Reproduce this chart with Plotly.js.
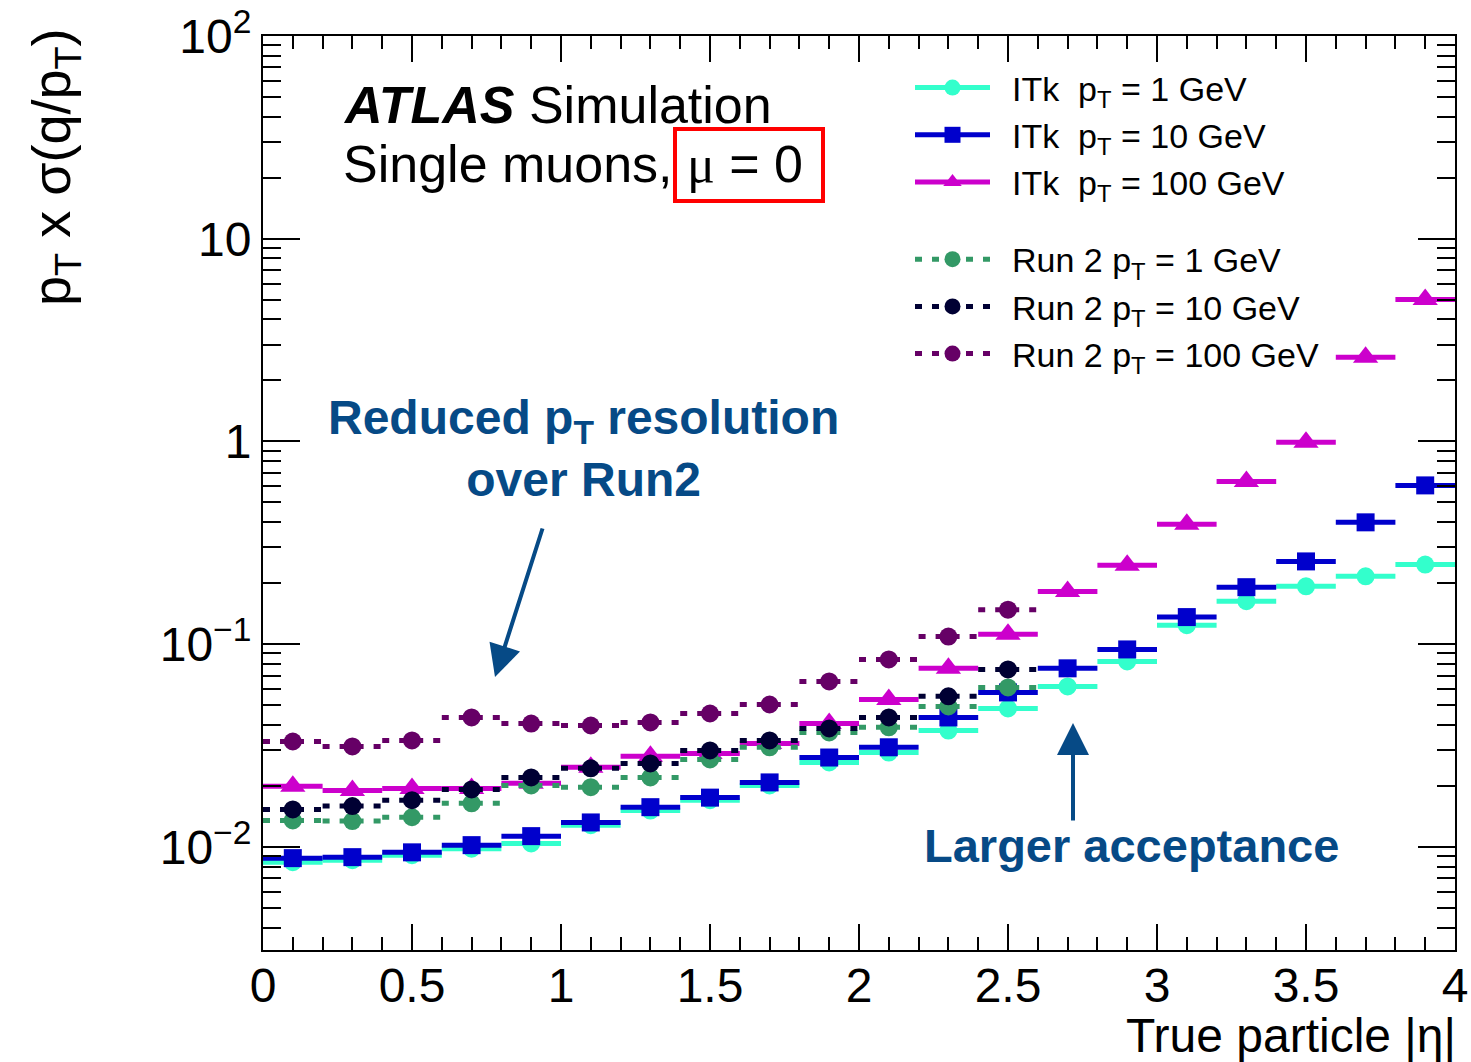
<!DOCTYPE html>
<html><head><meta charset="utf-8">
<script src="https://cdn.plot.ly/plotly-3.0.1.min.js"></script>
<style>html,body{margin:0;padding:0;background:#fff}</style>
</head><body><div id="chart" style="width:1471px;height:1062px"></div>
<script>
// ---- data ----
const etaBinCenters = [0.1,0.3,0.5,0.7,0.9,1.1,1.3,1.5,1.7,1.9,2.1,2.3,2.5,2.7,2.9,3.1,3.3,3.5,3.7,3.9];
const etaBinHalfWidth = 0.1;

const itk1GeV   = [0.0084,0.0086,0.0091,0.0098,0.0104,0.0128,0.0151,0.0170,0.0201,0.0261,0.0292,0.0375,0.0482,0.0619,0.0822,0.124,0.163,0.193,0.216,0.247];
const itk10GeV  = [0.0088,0.0089,0.0094,0.0102,0.0113,0.0132,0.0157,0.0175,0.0208,0.0276,0.0310,0.0435,0.0578,0.0760,0.0942,0.136,0.191,0.256,0.399,0.607];
const itk100GeV = [0.0199,0.0190,0.0194,0.0194,0.0206,0.0247,0.0280,0.0289,0.0324,0.0406,0.0534,0.0760,0.112,0.182,0.245,0.390,0.635,0.99,2.60,5.02];
const run2_1GeV   = [0.0135,0.0134,0.0140,0.0164,0.0201,0.0197,0.0220,0.0270,0.0310,0.0367,0.0389,0.0493,0.0612];
const run2_10GeV  = [0.0153,0.0159,0.0170,0.0192,0.0220,0.0244,0.0258,0.0299,0.0335,0.0384,0.0435,0.0553,0.0751];
const run2_100GeV = [0.0331,0.0313,0.0335,0.0435,0.0406,0.0397,0.0411,0.0455,0.0504,0.0655,0.0841,0.109,0.148];

const seriesNames = [
  '\u2002ITk  p<sub>T</sub> = 1 GeV', '\u2002ITk  p<sub>T</sub> = 10 GeV', '\u2002ITk  p<sub>T</sub> = 100 GeV',
  '\u2002Run 2 p<sub>T</sub> = 1 GeV', '\u2002Run 2 p<sub>T</sub> = 10 GeV', '\u2002Run 2 p<sub>T</sub> = 100 GeV'
];
const xTickVals = [0,0.5,1,1.5,2,2.5,3,3.5,4];
const xTickText = ['0','0.5','1','1.5','2','2.5','3','3.5','4'];
const yTickVals = [0.01,0.1,1,10,100];
const yTickText = ['10<sup>−2</sup>','10<sup>−1</sup>','1','10','10<sup>2</sup>'];

// ---- styles ----
const seriesValues = [itk1GeV, itk10GeV, itk100GeV, run2_1GeV, run2_10GeV, run2_100GeV];
const styles = [
  {color:'#33ffcc', symbol:'circle',      size:18, dash:'solid', group:'itk'},
  {color:'#0000cc', symbol:'square',      size:18, dash:'solid', group:'itk'},
  {color:'#cc00cc', symbol:'triangle-up', size:22, dash:'solid', group:'itk'},
  {color:'#339966', symbol:'circle',      size:18, dash:'7px,10px', group:'run2'},
  {color:'#000033', symbol:'circle',      size:18, dash:'7px,10px', group:'run2'},
  {color:'#660066', symbol:'circle',      size:18, dash:'7px,10px', group:'run2'}
];

const traces = [];
seriesValues.forEach((vals, k) => {
  const st = styles[k];
  const sx = [], sy = [];
  vals.forEach((v, i) => {
    const c = etaBinCenters[i];
    sx.push(c - etaBinHalfWidth, c + etaBinHalfWidth, null);
    sy.push(v, v, null);
  });
  traces.push({x: sx, y: sy, mode: 'lines', showlegend: false, hoverinfo: 'skip',
    line: {color: st.color, width: 5, dash: st.dash}});
  traces.push({x: etaBinCenters.slice(0, vals.length), y: vals, mode: 'markers', showlegend: false,
    marker: {color: st.color, symbol: st.symbol, size: st.size, line: {width: 0}}});
});
seriesValues.forEach((vals, k) => {
  const st = styles[k];
  traces.push({x: [null], y: [null], mode: 'lines+markers', name: seriesNames[k], legendgroup: st.group,
    line: {color: st.color, width: 5, dash: st.dash},
    marker: {color: st.color, symbol: st.symbol, size: st.size, line: {width: 0}}});
});

const FONT = 'Liberation Sans, Helvetica, Arial, sans-serif';
const BLUE = '#064a86';
const px = p => (p - 263) / 1192;
const py = p => (950 - p) / 914;

const layout = {
  width: 1471, height: 1062,
  margin: {l: 263, r: 16, t: 36, b: 112, pad: 0},
  paper_bgcolor: '#fff', plot_bgcolor: '#fff',
  font: {family: FONT, color: '#000'},
  showlegend: true,
  legend: {x: px(910), y: py(59), xanchor: 'left', yanchor: 'top', bgcolor: 'rgba(0,0,0,0)',
    font: {size: 34, family: FONT}, itemwidth: 75, tracegroupgap: 30, traceorder: 'grouped'},
  xaxis: {range: [0, 4], showgrid: false, zeroline: false, showline: true, linewidth: 2, linecolor: '#000',
    mirror: 'ticks', ticks: 'inside', ticklen: 26, tickwidth: 2, tickcolor: '#000',
    tickmode: 'array', tickvals: xTickVals, ticktext: xTickText, ticklabelstandoff: -8,
    tickfont: {size: 48, family: FONT},
    minor: {dtick: 0.1, tick0: 0, ticks: 'inside', ticklen: 13, tickwidth: 2, tickcolor: '#000', showgrid: false}},
  yaxis: {type: 'log', range: [Math.log10(0.0031), 2], showgrid: false, zeroline: false, showline: true,
    linewidth: 2, linecolor: '#000', mirror: 'ticks', ticks: 'inside', ticklen: 37, tickwidth: 2, tickcolor: '#000',
    tickmode: 'array', tickvals: yTickVals, ticktext: yTickText, tickfont: {size: 48, family: FONT},
    minor: {dtick: 'D1', ticks: 'inside', ticklen: 18, tickwidth: 2, tickcolor: '#000', showgrid: false}},
  shapes: [
    {type: 'rect', xref: 'paper', yref: 'paper', x0: px(675), x1: px(823), y0: py(201), y1: py(129),
      line: {color: '#ff0000', width: 4}}
  ],
  annotations: [
    {xref: 'paper', yref: 'paper', x: px(341), y: py(105), xanchor: 'left', yanchor: 'middle', showarrow: false,
      text: '<b><i>ATLAS</i></b> Simulation', font: {size: 52, family: FONT}},
    {xref: 'paper', yref: 'paper', x: px(341), y: py(164), xanchor: 'left', yanchor: 'middle', showarrow: false,
      text: 'Single muons, <span style="font-family:Liberation Serif, Times New Roman, serif">μ</span> = 0', font: {size: 52, family: FONT}},
    {xref: 'paper', yref: 'paper', x: px(583), y: py(449), xanchor: 'center', yanchor: 'middle', showarrow: false,
      text: '<b>Reduced p<sub>T</sub> resolution<br>over Run2</b>', font: {size: 48, family: FONT, color: BLUE}},
    {xref: 'paper', yref: 'paper', x: px(1131), y: py(845), xanchor: 'center', yanchor: 'middle', showarrow: false,
      text: '<b>Larger acceptance</b>', font: {size: 47, family: FONT, color: BLUE}},
    {xref: 'paper', yref: 'paper', x: px(495), y: py(677), ax: 48, ay: -150, axref: 'pixel', ayref: 'pixel',
      text: '', showarrow: true, arrowhead: 2, arrowsize: 1.6, arrowwidth: 4, arrowcolor: BLUE},
    {xref: 'paper', yref: 'paper', x: px(1073), y: py(723), ax: 0, ay: 99, axref: 'pixel', ayref: 'pixel',
      text: '', showarrow: true, arrowhead: 2, arrowsize: 1.6, arrowwidth: 4, arrowcolor: BLUE},
    {xref: 'paper', yref: 'paper', x: px(55), y: py(26), xanchor: 'center', yanchor: 'top', showarrow: false,
      textangle: -90, text: 'p<sub>T</sub> x σ(q/p<sub>T</sub>)', font: {size: 54, family: FONT}},
    {xref: 'paper', yref: 'paper', x: px(1458), y: py(1064), xanchor: 'right', yanchor: 'bottom', showarrow: false,
      text: 'True particle |η|', font: {size: 48, family: FONT}}
  ]
};

Plotly.newPlot('chart', traces, layout, {staticPlot: true, displayModeBar: false});
</script></body></html>
